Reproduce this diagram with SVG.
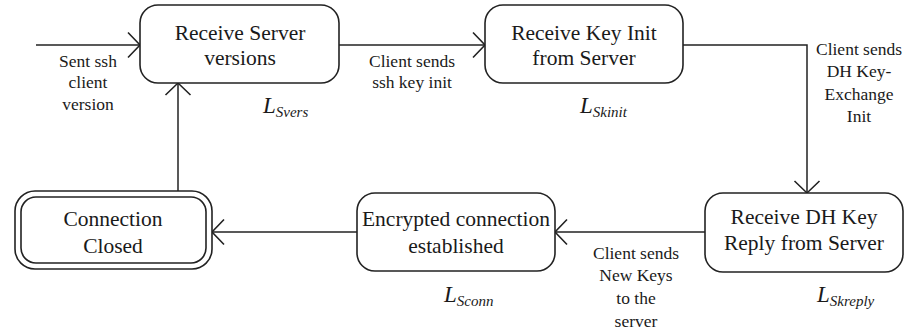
<svg xmlns="http://www.w3.org/2000/svg" width="916" height="332" viewBox="0 0 916 332">
<defs>
<marker id="arr" viewBox="-14 -14 16 28" refX="0" refY="0" markerWidth="16" markerHeight="28" markerUnits="userSpaceOnUse" orient="auto">
<path d="M-12,-12.5 L0,0 L-12,12.5" fill="none" stroke="#222" stroke-width="1.6"/>
</marker>
</defs>
<style>
.box{fill:#fff;stroke:#222;stroke-width:1.6}
.edge{fill:none;stroke:#222;stroke-width:1.5;marker-end:url(#arr)}
.nt{font-family:"Liberation Serif","Times New Roman",serif;font-size:21.5px;fill:#1a1a1a;text-anchor:middle}
.lt{font-family:"Liberation Serif","Times New Roman",serif;font-size:17.5px;fill:#1a1a1a;text-anchor:middle}
.L{font-family:"Liberation Serif","Times New Roman",serif;font-style:italic;font-size:23px;fill:#1a1a1a}
.sub{font-size:15px}
</style>
<rect width="916" height="332" fill="#fff"/>
<g id="connectors">
<path class="edge" d="M36,45 H140"/>
<path class="edge" d="M339,45 H485"/>
<path class="edge" d="M683,45 H807 V193"/>
<path class="edge" d="M705,232 H555"/>
<path class="edge" d="M357,232 H212"/>
<path class="edge" d="M178,191 V83"/>
</g>
<g id="labels">
<text class="lt" x="88" y="67">Sent ssh</text>
<text class="lt" x="88" y="88">client</text>
<text class="lt" x="88" y="110">version</text>
<text class="lt" x="412" y="67">Client sends</text>
<text class="lt" x="412" y="88">ssh key init</text>
<text class="lt" x="859" y="55">Client sends</text>
<text class="lt" x="859" y="77">DH Key-</text>
<text class="lt" x="859" y="100">Exchange</text>
<text class="lt" x="859" y="122">Init</text>
<text class="lt" x="636" y="259">Client sends</text>
<text class="lt" x="636" y="281">New Keys</text>
<text class="lt" x="636" y="304">to the</text>
<text class="lt" x="636" y="327">server</text>
</g>
<g id="node-svers">
<rect class="box" x="140" y="5" width="199" height="78" rx="18"/>
<text class="nt" x="240" y="40">Receive Server</text>
<text class="nt" x="240" y="65">versions</text>
<text class="L" x="263" y="113">L<tspan class="sub" dy="4">Svers</tspan></text>
</g>
<g id="node-skinit">
<rect class="box" x="485" y="5" width="198" height="78" rx="18"/>
<text class="nt" x="584" y="40">Receive Key Init</text>
<text class="nt" x="584" y="65">from Server</text>
<text class="L" x="580" y="113">L<tspan class="sub" dy="4">Skinit</tspan></text>
</g>
<g id="node-skreply">
<rect class="box" x="705" y="193" width="198" height="79" rx="18"/>
<text class="nt" x="804" y="224">Receive DH Key</text>
<text class="nt" x="804" y="250">Reply from Server</text>
<text class="L" x="817" y="302">L<tspan class="sub" dy="4">Skreply</tspan></text>
</g>
<g id="node-sconn">
<rect class="box" x="357" y="193" width="198" height="78" rx="18"/>
<text class="nt" x="456" y="226">Encrypted connection</text>
<text class="nt" x="456" y="253">established</text>
<text class="L" x="444" y="302">L<tspan class="sub" dy="4">Sconn</tspan></text>
</g>
<g id="node-closed">
<rect class="box" x="15" y="191" width="197" height="78" rx="20"/>
<rect class="box" x="21" y="197" width="185" height="66" rx="15"/>
<text class="nt" x="113" y="226">Connection</text>
<text class="nt" x="113" y="253">Closed</text>
</g>
</svg>
